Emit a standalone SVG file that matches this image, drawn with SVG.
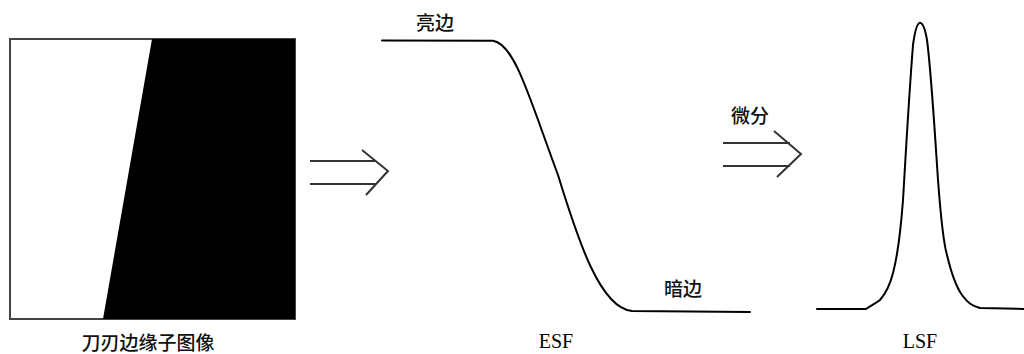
<svg xmlns="http://www.w3.org/2000/svg" width="1024" height="354" viewBox="0 0 1024 354">
<style>
.ln{fill:none;stroke:#000;stroke-width:2;stroke-linejoin:round;stroke-linecap:round}
.arr{fill:none;stroke:#333;stroke-width:2}
.t{font-family:"Liberation Serif","Noto Sans CJK SC",serif;font-size:20px;fill:#000}
.cn{font-family:"Noto Sans CJK SC",sans-serif;font-size:19px;font-weight:500;fill:#111}
</style>
<rect width="1024" height="354" fill="#fff"/>
<g id="knife-edge">
<rect x="10" y="39" width="285" height="280" fill="#fff" stroke="#444" stroke-width="2"/>
<polygon points="152,39 295,39 295,319 103,319" fill="#000"/>
<text class="cn" x="148" y="350" text-anchor="middle">刀刃边缘子图像</text>
</g>
<g id="esf">
<path class="ln" d="M382,40.5 L493,40.7 C515,44 530,100 558,175 C578,240 600,308 632,311 L750,312"/>
<text class="cn" x="435" y="30" text-anchor="middle">亮边</text>
<text class="cn" x="683" y="296" text-anchor="middle">暗边</text>
<text class="t" x="556" y="348" text-anchor="middle">ESF</text>
</g>
<g id="lsf">
<path class="ln" d="M817,309 L866,309 C872,305 876,303 880,300 C886,293 890,285 893,273 C897,258 900,240 903,200 C906,150 909,95 913,45 C915,30 917,23 920,22.7 C923,23 925,28 927,40 C931,70 934,120 938,180 C941,220 944,245 947,255 C951,272 955,285 962,295 C968,303 972,306 980,308 L1024,309"/>
<text class="t" x="920" y="348" text-anchor="middle">LSF</text>
</g>
<g id="connectors">
<g id="arrow1">
<line class="arr" x1="310" y1="161" x2="375" y2="161"/>
<line class="arr" x1="310" y1="184" x2="375" y2="184"/>
<polyline class="arr" points="362,150 388,171 366,195"/>
</g>
<g id="arrow2">
<line class="arr" x1="723" y1="143" x2="790" y2="143"/>
<line class="arr" x1="723" y1="166" x2="790" y2="166"/>
<polyline class="arr" points="774,131 801,154 777,177"/>
<text class="cn" x="750" y="123" text-anchor="middle">微分</text>
</g>
</g>
</svg>
